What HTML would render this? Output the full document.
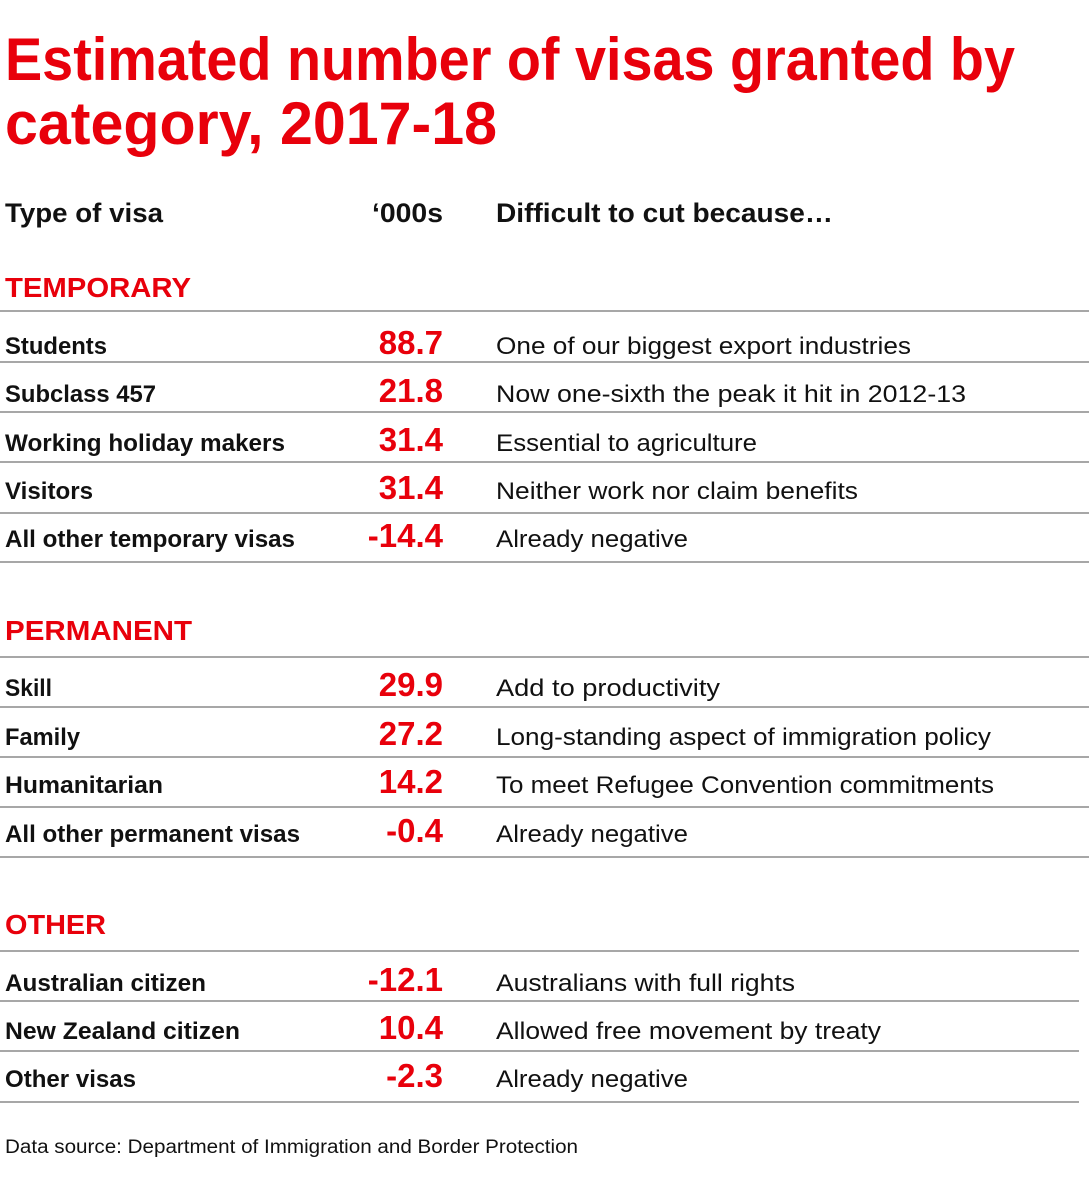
<!DOCTYPE html>
<html><head><meta charset="utf-8"><style>
html,body{margin:0;padding:0;background:#fff;}
svg{display:block;}
text{font-family:"Liberation Sans",sans-serif;}
.t{fill:#e8000b;font-weight:bold;font-size:60px;}
.h{fill:#111;font-weight:bold;font-size:27px;}
.s{fill:#e8000b;font-weight:bold;font-size:28px;}
.l{fill:#111;font-weight:bold;font-size:24px;}
.n{fill:#e8000b;font-weight:bold;font-size:33px;}
.d{fill:#111;font-size:24px;}
.f{fill:#111;font-size:19px;}
line{stroke:#8a8a8a;stroke-width:1.5;}
</style></head><body>
<svg width="1089" height="1200" viewBox="0 0 1089 1200" xmlns="http://www.w3.org/2000/svg">
<text class="t" x="5" y="80" textLength="1010" lengthAdjust="spacingAndGlyphs">Estimated number of visas granted by</text>
<text class="t" x="5" y="144" textLength="492" lengthAdjust="spacingAndGlyphs">category, 2017-18</text>
<text class="h" x="5" y="222" textLength="158" lengthAdjust="spacingAndGlyphs">Type of visa</text>
<text class="h" x="372" y="222" textLength="71" lengthAdjust="spacingAndGlyphs">‘000s</text>
<text class="h" x="496" y="222" textLength="337" lengthAdjust="spacingAndGlyphs">Difficult to cut because…</text>

<text class="s" x="5" y="297" textLength="186" lengthAdjust="spacingAndGlyphs">TEMPORARY</text>
<line x1="0" y1="311" x2="1089" y2="311"/>
<line x1="0" y1="362" x2="1089" y2="362"/>
<line x1="0" y1="412" x2="1089" y2="412"/>
<line x1="0" y1="462" x2="1089" y2="462"/>
<line x1="0" y1="513" x2="1089" y2="513"/>
<line x1="0" y1="562" x2="1089" y2="562"/>

<text class="s" x="5" y="640" textLength="187" lengthAdjust="spacingAndGlyphs">PERMANENT</text>
<line x1="0" y1="657" x2="1089" y2="657"/>
<line x1="0" y1="707" x2="1089" y2="707"/>
<line x1="0" y1="757" x2="1089" y2="757"/>
<line x1="0" y1="807" x2="1089" y2="807"/>
<line x1="0" y1="857" x2="1089" y2="857"/>

<text class="s" x="5" y="934" textLength="101" lengthAdjust="spacingAndGlyphs">OTHER</text>
<line x1="0" y1="951" x2="1079" y2="951"/>
<line x1="0" y1="1001" x2="1079" y2="1001"/>
<line x1="0" y1="1051" x2="1079" y2="1051"/>
<line x1="0" y1="1102" x2="1079" y2="1102"/>

<g>
<text class="l" x="5" y="354" textLength="102" lengthAdjust="spacingAndGlyphs">Students</text>
<text class="n" x="443" y="354" text-anchor="end">88.7</text>
<text class="d" x="496" y="354" textLength="415" lengthAdjust="spacingAndGlyphs">One of our biggest export industries</text>

<text class="l" x="5" y="402" textLength="151" lengthAdjust="spacingAndGlyphs">Subclass 457</text>
<text class="n" x="443" y="402" text-anchor="end">21.8</text>
<text class="d" x="496" y="402" textLength="470" lengthAdjust="spacingAndGlyphs">Now one-sixth the peak it hit in 2012-13</text>

<text class="l" x="5" y="451" textLength="280" lengthAdjust="spacingAndGlyphs">Working holiday makers</text>
<text class="n" x="443" y="451" text-anchor="end">31.4</text>
<text class="d" x="496" y="451" textLength="261" lengthAdjust="spacingAndGlyphs">Essential to agriculture</text>

<text class="l" x="5" y="499" textLength="88" lengthAdjust="spacingAndGlyphs">Visitors</text>
<text class="n" x="443" y="499" text-anchor="end">31.4</text>
<text class="d" x="496" y="499" textLength="362" lengthAdjust="spacingAndGlyphs">Neither work nor claim benefits</text>

<text class="l" x="5" y="547" textLength="290" lengthAdjust="spacingAndGlyphs">All other temporary visas</text>
<text class="n" x="443" y="547" text-anchor="end">-14.4</text>
<text class="d" x="496" y="547" textLength="192" lengthAdjust="spacingAndGlyphs">Already negative</text>

<text class="l" x="5" y="696" textLength="47" lengthAdjust="spacingAndGlyphs">Skill</text>
<text class="n" x="443" y="696" text-anchor="end">29.9</text>
<text class="d" x="496" y="696" textLength="224" lengthAdjust="spacingAndGlyphs">Add to productivity</text>

<text class="l" x="5" y="745" textLength="75" lengthAdjust="spacingAndGlyphs">Family</text>
<text class="n" x="443" y="745" text-anchor="end">27.2</text>
<text class="d" x="496" y="745" textLength="495" lengthAdjust="spacingAndGlyphs">Long-standing aspect of immigration policy</text>

<text class="l" x="5" y="793" textLength="158" lengthAdjust="spacingAndGlyphs">Humanitarian</text>
<text class="n" x="443" y="793" text-anchor="end">14.2</text>
<text class="d" x="496" y="793" textLength="498" lengthAdjust="spacingAndGlyphs">To meet Refugee Convention commitments</text>

<text class="l" x="5" y="842" textLength="295" lengthAdjust="spacingAndGlyphs">All other permanent visas</text>
<text class="n" x="443" y="842" text-anchor="end">-0.4</text>
<text class="d" x="496" y="842" textLength="192" lengthAdjust="spacingAndGlyphs">Already negative</text>

<text class="l" x="5" y="991" textLength="201" lengthAdjust="spacingAndGlyphs">Australian citizen</text>
<text class="n" x="443" y="991" text-anchor="end">-12.1</text>
<text class="d" x="496" y="991" textLength="299" lengthAdjust="spacingAndGlyphs">Australians with full rights</text>

<text class="l" x="5" y="1039" textLength="235" lengthAdjust="spacingAndGlyphs">New Zealand citizen</text>
<text class="n" x="443" y="1039" text-anchor="end">10.4</text>
<text class="d" x="496" y="1039" textLength="385" lengthAdjust="spacingAndGlyphs">Allowed free movement by treaty</text>

<text class="l" x="5" y="1087" textLength="131" lengthAdjust="spacingAndGlyphs">Other visas</text>
<text class="n" x="443" y="1087" text-anchor="end">-2.3</text>
<text class="d" x="496" y="1087" textLength="192" lengthAdjust="spacingAndGlyphs">Already negative</text>
</g>

<text class="f" x="5" y="1153" textLength="573" lengthAdjust="spacingAndGlyphs">Data source: Department of Immigration and Border Protection</text>
</svg>
</body></html>
